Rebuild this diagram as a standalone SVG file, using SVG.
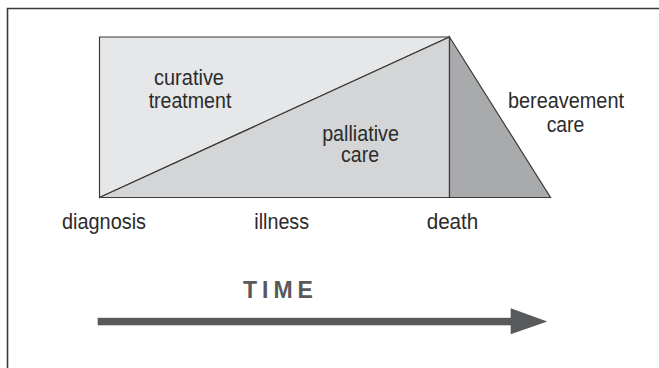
<svg xmlns="http://www.w3.org/2000/svg" width="659" height="368" viewBox="0 0 659 368">
  <style>
    .lbl { font-family: "Liberation Sans", Arial, sans-serif; font-size: 22px; fill: #2b2b2b; text-anchor: middle; }
    .time { font-family: "Liberation Sans", Arial, sans-serif; font-size: 23px; font-weight: bold; fill: #58595b; letter-spacing: 5px; }
    .edge { stroke: #3a3a3a; stroke-width: 1.2; stroke-linejoin: miter; }
  </style>
  <rect x="0" y="0" width="659" height="368" fill="#ffffff"/>
  <g id="frame">
    <path d="M7.5,370 V8.5 H661" fill="none" stroke="#3a3a3a" stroke-width="1.6"/>
  </g>
  <g id="curative-treatment">
    <polygon class="edge" points="99.5,37 449.5,37 99.5,197.5" fill="#e6e7e8"/>
    <text class="lbl" x="189" y="85" textLength="70" lengthAdjust="spacingAndGlyphs">curative</text>
    <text class="lbl" x="190" y="108.3" textLength="82.7" lengthAdjust="spacingAndGlyphs">treatment</text>
  </g>
  <g id="palliative-care">
    <polygon class="edge" points="99.5,197.5 449.5,37 449.5,197.5" fill="#d4d5d7"/>
    <text class="lbl" x="360.5" y="140.5" textLength="76.7" lengthAdjust="spacingAndGlyphs">palliative</text>
    <text class="lbl" x="360" y="162" textLength="38" lengthAdjust="spacingAndGlyphs">care</text>
  </g>
  <g id="bereavement-care">
    <polygon class="edge" points="449.5,37 550.5,197.5 449.5,197.5" fill="#a9aaac"/>
    <text class="lbl" x="566" y="107.5" textLength="116" lengthAdjust="spacingAndGlyphs">bereavement</text>
    <text class="lbl" x="565.5" y="131.5" textLength="37.7" lengthAdjust="spacingAndGlyphs">care</text>
  </g>
  <g id="diagnosis">
    <text class="lbl" x="104" y="228.5" textLength="84" lengthAdjust="spacingAndGlyphs">diagnosis</text>
  </g>
  <g id="illness">
    <text class="lbl" x="281.7" y="228.5" textLength="54.7" lengthAdjust="spacingAndGlyphs">illness</text>
  </g>
  <g id="death">
    <text class="lbl" x="452.5" y="228.5" textLength="51.7" lengthAdjust="spacingAndGlyphs">death</text>
  </g>
  <g id="time-label">
    <text class="time" x="243" y="297.5">TIME</text>
  </g>
  <g id="connectors">
    <rect x="97.7" y="317.8" width="413.5" height="7.5" fill="#58595b"/>
    <polygon points="510.7,308.3 547.3,321.6 510.7,334.3" fill="#58595b"/>
  </g>
</svg>
